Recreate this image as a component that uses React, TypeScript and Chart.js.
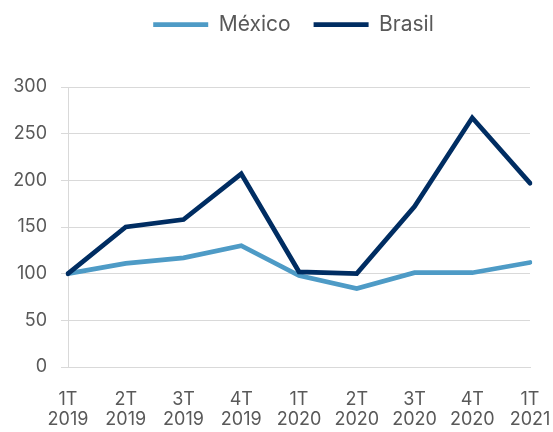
import React, { useEffect, useRef } from "react";
import { Chart, registerables } from "chart.js";

Chart.register(...registerables);

const categories: string[][] = [
  ["1T", "2019"], ["2T", "2019"], ["3T", "2019"], ["4T", "2019"],
  ["1T", "2020"], ["2T", "2020"], ["3T", "2020"], ["4T", "2020"],
  ["1T", "2021"],
];
const mexico: number[] = [100, 111, 117, 130, 98, 84, 101, 101, 112];
const brasil: number[] = [100, 150, 158, 207, 102, 100, 172, 267, 197];
const seriesNames = { mexico: "México", brasil: "Brasil" };
const yMin = 0;
const yMax = 300;
const yStep = 50;

const FONT = "Inter, 'Noto Sans', sans-serif";
const TEXT = "#595959";
const GRID = "#D9D9D9";
const C_MEX = "#4E9BC6";
const C_BRA = "#002D62";

const LEGEND_HEIGHT = 96;
const LEGEND_SHIFT_X = 17;

const legendTweaks = {
  id: "legendTweaks",
  beforeLayout(chart: any) {
    const legend = chart.legend;
    if (!legend || legend.__patched) return;
    legend.__patched = true;
    const origFit = legend.fit;
    legend.fit = function () {
      origFit.call(this);
      this.height = LEGEND_HEIGHT;
    };
    const origDraw = legend.draw;
    legend.draw = function (...args: any[]) {
      const ctx = this.ctx;
      ctx.save();
      ctx.translate(LEGEND_SHIFT_X, 0);
      origDraw.apply(this, args);
      ctx.restore();
    };
  },
};

export default function App() {
  const ref = useRef<HTMLCanvasElement | null>(null);
  useEffect(() => {
    if (!ref.current) return;
    const chart = new Chart(ref.current, {
      type: "line",
      data: {
        labels: categories,
        datasets: [
          {
            label: seriesNames.brasil,
            data: brasil,
            borderColor: C_BRA,
            backgroundColor: C_BRA,
            borderWidth: 4.75,
            borderCapStyle: "round",
            pointRadius: 0,
            tension: 0,
          },
          {
            label: seriesNames.mexico,
            data: mexico,
            borderColor: C_MEX,
            backgroundColor: C_MEX,
            borderWidth: 4.75,
            borderCapStyle: "round",
            pointRadius: 0,
            tension: 0,
          },
        ],
      },
      plugins: [legendTweaks],
      options: {
        animation: false,
        responsive: false,
        devicePixelRatio: 1,
        layout: { padding: { top: -9, left: 0, right: 0, bottom: 0 } },
        plugins: {
          tooltip: { enabled: false },
          legend: {
            position: "top",
            reverse: true,
            labels: {
              usePointStyle: true,
              pointStyle: "line",
              pointStyleWidth: 55,
              padding: 23,
              color: TEXT,
              font: { family: FONT, size: 21 },
            },
          },
        },
        scales: {
          x: {
            offset: false,
            grid: { display: false, drawTicks: false },
            border: { display: true, color: GRID, width: 1 },
            ticks: {
              color: TEXT,
              font: { family: FONT, size: 18, lineHeight: 1.15 },
              padding: 22,
              maxRotation: 0,
              autoSkip: false,
            },
            afterFit: (s: any) => {
              s.height = 65;
              s.paddingLeft = 0;
              s.paddingRight = 23;
            },
          },
          y: {
            min: yMin,
            max: yMax,
            grid: { color: GRID, lineWidth: 1, tickLength: 7, drawTicks: true },
            border: { display: true, color: GRID, width: 1 },
            ticks: {
              stepSize: yStep,
              color: TEXT,
              font: { family: FONT, size: 18 },
              padding: 14,
            },
            afterFit: (s: any) => { s.width = 68; },
          },
        },
      },
    });
    return () => chart.destroy();
  }, []);
  return (
    <div style={{ position: "absolute", left: 0, top: 0, width: 553, height: 432 }}>
      <canvas ref={ref} width={553} height={432} style={{ width: 553, height: 432 }} />
    </div>
  );
}
